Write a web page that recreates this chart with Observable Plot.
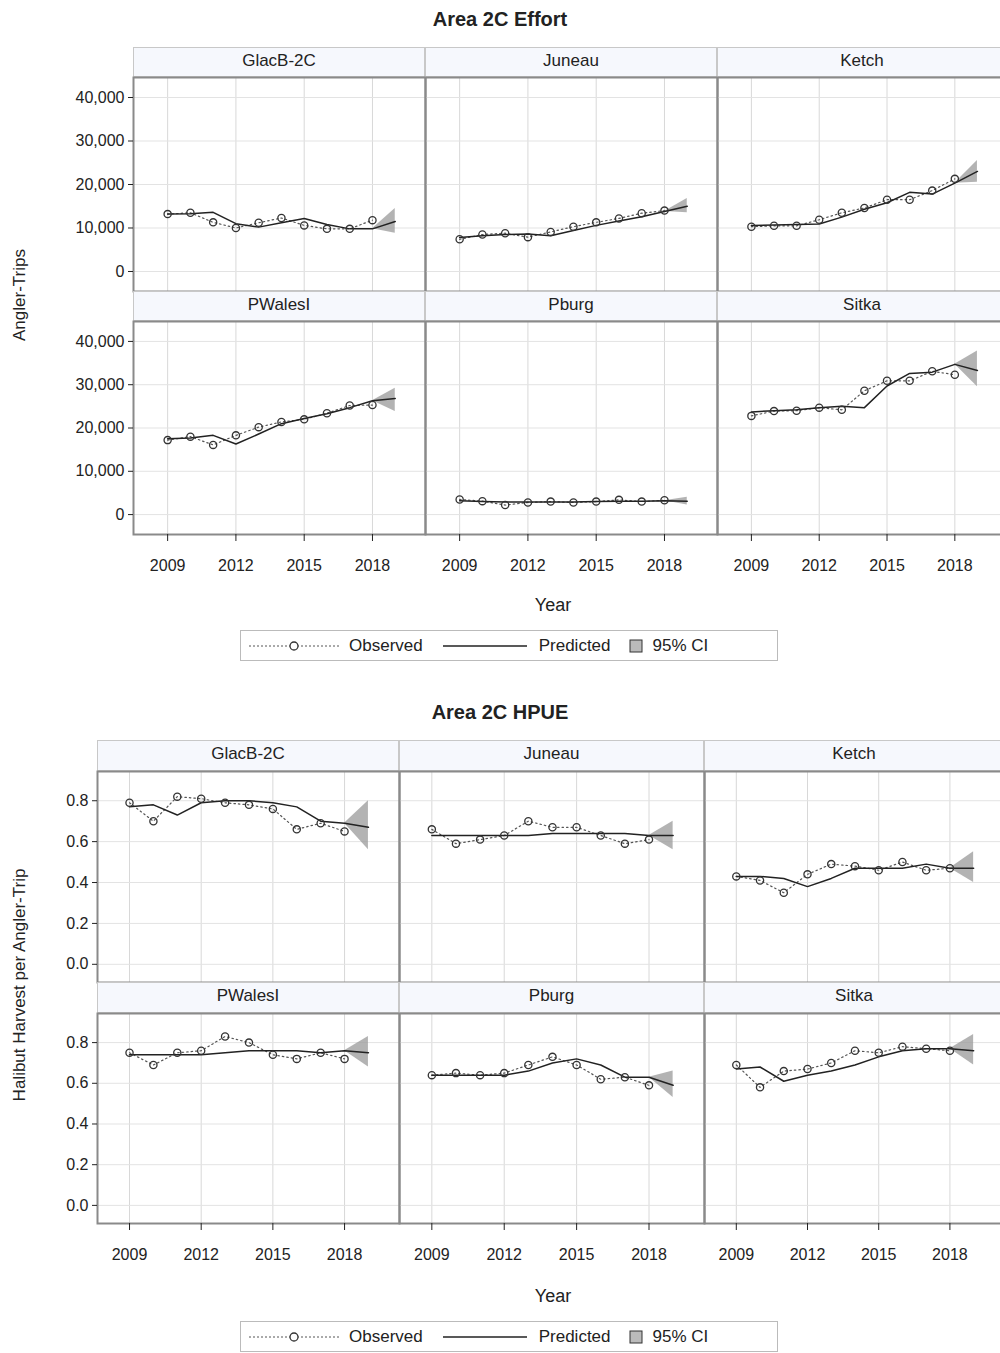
<!DOCTYPE html>
<html><head><meta charset="utf-8">
<script src="https://cdn.jsdelivr.net/npm/d3@7"></script>
<script src="https://cdn.jsdelivr.net/npm/@observablehq/plot@0.6"></script>
<style>
body{margin:0;background:#fff;font-family:"Liberation Sans",Arial,sans-serif;color:#222}
#root{position:relative;width:1000px;height:1353px;overflow:hidden}
.hdr{position:absolute;background:#f6f8fd;border:1px solid #c8c8c8;box-sizing:border-box;text-align:center;font-size:17px;line-height:26px;color:#222}
.title{position:absolute;width:1000px;text-align:center;font-weight:bold;font-size:20px}
.ylab{position:absolute;font-size:17px;transform:rotate(-90deg);transform-origin:center;white-space:nowrap;text-align:center}
.xlab{position:absolute;font-size:18px;text-align:center}
.legend{position:absolute;border:1px solid #bbb;box-sizing:border-box;font-size:17px;display:flex;align-items:center;padding-left:6px}
</style></head>
<body><div id="root"></div>
<script>
const regions = ["GlacB-2C","Juneau","Ketch","PWalesI","Pburg","Sitka"]
const years = [2009,2010,2011,2012,2013,2014,2015,2016,2017,2018]
const predYears = [2009,2010,2011,2012,2013,2014,2015,2016,2017,2018,2019]

// Effort, angler-trips in thousands
const effortObs = {
  "GlacB-2C": [13.2,13.5,11.3,10.0,11.2,12.3,10.6,9.8,9.8,11.8],
  "Juneau":   [7.4,8.5,8.8,7.9,9.1,10.3,11.3,12.2,13.4,14.0],
  "Ketch":    [10.3,10.5,10.5,11.9,13.5,14.6,16.5,16.5,18.6,21.3],
  "PWalesI":  [17.2,18.0,16.1,18.3,20.2,21.4,22.0,23.4,25.2,25.3],
  "Pburg":    [3.5,3.1,2.2,2.8,3.0,2.8,3.0,3.4,3.0,3.3],
  "Sitka":    [22.8,23.9,24.0,24.7,24.2,28.6,30.9,30.9,33.1,32.3]
}
const effortPred = {
  "GlacB-2C": [13.2,13.3,13.6,11.0,10.2,11.2,12.2,10.8,9.8,9.8,11.5],
  "Juneau":   [7.8,8.2,8.5,8.6,8.2,9.4,10.6,11.6,12.6,13.8,15.0],
  "Ketch":    [10.6,10.7,10.8,10.9,12.5,14.3,15.8,18.2,17.8,20.3,23.0],
  "PWalesI":  [17.5,17.7,18.3,16.3,18.6,21.0,22.2,23.3,24.7,26.3,26.8],
  "Pburg":    [3.2,3.0,2.9,2.9,2.9,2.9,3.0,3.1,3.1,3.2,3.1],
  "Sitka":    [23.7,24.0,24.2,24.7,25.0,24.7,29.7,32.6,32.9,34.7,33.3]
}
const effortCI2019 = {
  "GlacB-2C": [8.8,14.5], "Juneau": [13.5,16.8], "Ketch": [20.5,25.5],
  "PWalesI": [23.8,29.2], "Pburg": [2.2,4.0], "Sitka": [29.5,37.8]
}

// HPUE, halibut per angler-trip
const hpueObs = {
  "GlacB-2C": [0.79,0.70,0.82,0.81,0.79,0.78,0.76,0.66,0.69,0.65],
  "Juneau":   [0.66,0.59,0.61,0.63,0.70,0.67,0.67,0.63,0.59,0.61],
  "Ketch":    [0.43,0.41,0.35,0.44,0.49,0.48,0.46,0.50,0.46,0.47],
  "PWalesI":  [0.75,0.69,0.75,0.76,0.83,0.80,0.74,0.72,0.75,0.72],
  "Pburg":    [0.64,0.65,0.64,0.65,0.69,0.73,0.69,0.62,0.63,0.59],
  "Sitka":    [0.69,0.58,0.66,0.67,0.70,0.76,0.75,0.78,0.77,0.76]
}
const hpuePred = {
  "GlacB-2C": [0.77,0.78,0.73,0.79,0.80,0.80,0.79,0.77,0.70,0.69,0.67],
  "Juneau":   [0.63,0.63,0.63,0.63,0.63,0.64,0.64,0.64,0.64,0.63,0.63],
  "Ketch":    [0.43,0.43,0.42,0.38,0.42,0.47,0.47,0.47,0.49,0.47,0.47],
  "PWalesI":  [0.74,0.74,0.74,0.74,0.75,0.76,0.76,0.76,0.75,0.76,0.75],
  "Pburg":    [0.64,0.64,0.64,0.64,0.66,0.70,0.72,0.69,0.63,0.63,0.59],
  "Sitka":    [0.67,0.68,0.61,0.64,0.66,0.69,0.73,0.76,0.77,0.77,0.76]
}
const hpueCI2019 = {
  "GlacB-2C": [0.56,0.80], "Juneau": [0.56,0.70], "Ketch": [0.40,0.55],
  "PWalesI": [0.68,0.83], "Pburg": [0.53,0.66], "Sitka": [0.69,0.84]
}

const xTicks = [2009,2012,2015,2018]
const root = document.getElementById("root")
const font = '"Liberation Sans", Arial, sans-serif'

function place(el, left, top) {
  el.style.position = "absolute"; el.style.left = left + "px"; el.style.top = top + "px"
  el.style.overflow = "visible"
  root.appendChild(el)
}
function div(cls, left, top, w, h, text) {
  const d = document.createElement("div"); d.className = cls
  Object.assign(d.style, {left: left + "px", top: top + "px", width: w + "px", height: h + "px"})
  d.textContent = text; root.appendChild(d); return d
}

function drawChart(cfg) {
  div("title", 0, cfg.titleTop, 1000, 24, cfg.title)
  regions.forEach((r, i) => {
    const col = i % 3, row = Math.floor(i / 3)
    const [cx, cw] = cfg.cols[col]
    const [hy, hh] = cfg.hdrs[row]
    const [py, ph] = cfg.panels[row]
    div("hdr", cx, hy, cw, hh, r)
    const obs = years.map((y, k) => ({year: y, v: cfg.obs[r][k]}))
    const pred = predYears.map((y, k) => ({year: y, v: cfg.pred[r][k]}))
    const p18 = cfg.pred[r][9]
    const ci = [{year: 2018, lo: p18, hi: p18}, {year: 2019, lo: cfg.ci[r][0], hi: cfg.ci[r][1]}]
    const chart = Plot.plot({
      width: cw, height: ph, margin: 0,
      style: {fontFamily: font},
      x: {domain: cfg.xDomain, axis: null},
      y: {domain: cfg.yDomain, axis: null},
      marks: [
        Plot.gridX(xTicks, {stroke: "#d8d8d8", strokeOpacity: 1}),
        Plot.gridY(cfg.yTicks, {stroke: "#e3e3e3", strokeOpacity: 1}),
        Plot.areaY(ci, {x: "year", y1: "lo", y2: "hi", fill: "#9a9a9a", fillOpacity: 0.75}),
        Plot.line(obs, {x: "year", y: "v", stroke: "#555", strokeWidth: 1.2, strokeDasharray: "1.5,3"}),
        Plot.line(pred, {x: "year", y: "v", stroke: "#222", strokeWidth: 1.5}),
        Plot.dot(obs, {x: "year", y: "v", r: 3.6, stroke: "#333", fill: "none", strokeWidth: 1.3}),
        Plot.frame({stroke: "#8a8a8a", strokeWidth: 2})
      ]
    })
    place(chart, cx, py)
    if (col === 0) {
      const ax = Plot.plot({
        width: 91, height: ph, marginLeft: 90, marginRight: 0, marginTop: 0, marginBottom: 0,
        style: {fontFamily: font, fontSize: "16px", color: "#222"},
        x: {axis: null},
        y: {domain: cfg.yDomain},
        marks: [Plot.axisY(cfg.yTicks, {tickFormat: cfg.fmt, tickSize: 5, tickPadding: 4, label: null})]
      })
      place(ax, cx - 90, py)
    }
    if (row === 1) {
      const ax = Plot.plot({
        width: cw, height: 45, marginLeft: 0, marginRight: 0, marginTop: 1, marginBottom: 44,
        style: {fontFamily: font, fontSize: "16px", color: "#222"},
        x: {domain: cfg.xDomain},
        y: {axis: null},
        marks: [Plot.axisX(xTicks, {tickFormat: d => String(d), tickSize: 7, tickPadding: 18, label: null})]
      })
      place(ax, cx, py + ph - 1)
    }
  })
  div("ylab", cfg.ylab[0] - 200, cfg.ylab[1] - 12, 400, 24, cfg.yLabel)
  div("xlab", 0, cfg.xlabTop, 1106, 22, "Year")
  const lg = div("legend", 240, cfg.legendTop, 538, 31, "")
  lg.innerHTML = `<svg width="94" height="14"><line x1="2" x2="92" y1="7" y2="7" stroke="#555" stroke-dasharray="2,2"/><circle cx="47" cy="7" r="4" fill="#fff" stroke="#333" stroke-width="1.3"/></svg><span style="margin-left:8px;margin-right:18px">Observed</span><svg width="88" height="14"><line x1="2" x2="86" y1="7" y2="7" stroke="#222" stroke-width="1.5"/></svg><span style="margin-left:10px;margin-right:18px">Predicted</span><svg width="14" height="14"><rect x="1" y="1" width="12" height="12" fill="#bbb" stroke="#333"/></svg><span style="margin-left:10px">95% CI</span>`
}

drawChart({
  title: "Area 2C Effort", titleTop: 8,
  cols: [[133, 292], [425, 292], [717, 290]],
  hdrs: [[47, 30], [291, 30]],
  panels: [[77, 214], [321, 213]],
  xDomain: [2007.5, 2020.33],
  yDomain: [-4.6, 44.6], yTicks: [0, 10, 20, 30, 40],
  fmt: d => d3.format(",")(d * 1000),
  obs: effortObs, pred: effortPred, ci: effortCI2019,
  yLabel: "Angler-Trips", ylab: [22, 295],
  xlabTop: 595, legendTop: 630
})
drawChart({
  title: "Area 2C HPUE", titleTop: 701,
  cols: [[97, 302], [399, 305], [704, 300]],
  hdrs: [[740, 31], [982, 31]],
  panels: [[771, 211], [1013, 210]],
  xDomain: [2007.66, 2020.3],
  yDomain: [-0.089, 0.943], yTicks: [0, 0.2, 0.4, 0.6, 0.8],
  fmt: d => d.toFixed(1),
  obs: hpueObs, pred: hpuePred, ci: hpueCI2019,
  yLabel: "Halibut Harvest per Angler-Trip", ylab: [22, 985],
  xlabTop: 1286, legendTop: 1321
})
</script></body></html>
